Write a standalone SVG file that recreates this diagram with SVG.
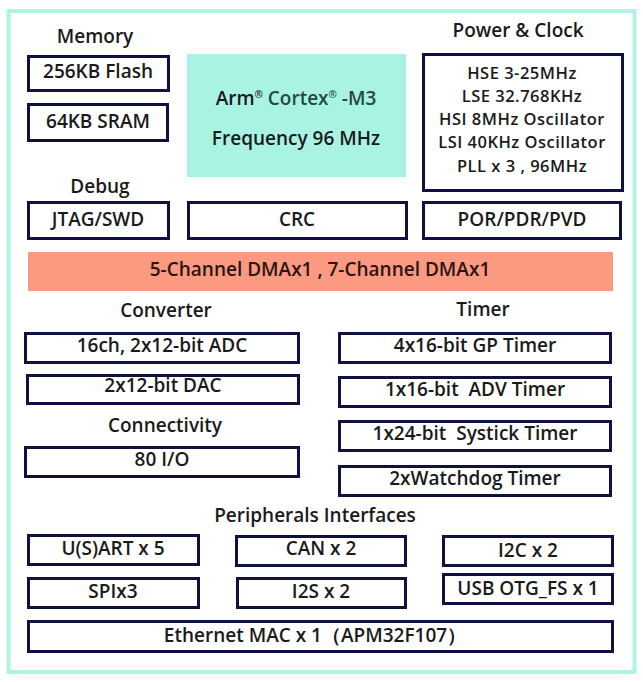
<svg xmlns="http://www.w3.org/2000/svg" width="643" height="682" viewBox="0 0 643 682">
<style>
.bx{fill:#ffffff;stroke:#0f1140;stroke-width:3}
.t{font-family:"Open Sans","Noto Sans","Liberation Sans",sans-serif;font-weight:600;font-size:19px;fill:#1a1a1a;text-anchor:middle}
.h{font-family:"Open Sans","Noto Sans","Liberation Sans",sans-serif;font-weight:600;font-size:19px;fill:#1a1a1a;text-anchor:middle}
.s{font-family:"Open Sans","Noto Sans","Liberation Sans",sans-serif;font-weight:600;font-size:16.5px;letter-spacing:0.5px;fill:#1a1a1a;text-anchor:middle}
.c{fill:#234845}
</style>
<rect x="0" y="0" width="643" height="682" fill="#ffffff"/>
<rect x="8.5" y="11" width="626" height="661" fill="#ffffff" stroke="#aef3e4" stroke-width="4"/>
<g id="titles">
<text class="h" x="95" y="43">Memory</text>
<text class="h" x="518" y="37">Power &amp; Clock</text>
<text class="h" x="100" y="193">Debug</text>
<text class="h" x="166" y="317">Converter</text>
<text class="h" x="483" y="316">Timer</text>
<text class="h" x="165" y="432">Connectivity</text>
<text class="h" x="315" y="522">Peripherals Interfaces</text>
</g>
<g id="flash"><rect class="bx" x="28.5" y="56.5" width="140" height="34"/><text class="t" x="98" y="78">256KB Flash</text></g>
<g id="sram"><rect class="bx" x="28.5" y="104.5" width="139" height="36"/><text class="t" x="98" y="128">64KB SRAM</text></g>
<g id="cortex"><rect x="187" y="54" width="219" height="123" fill="#a8f3e3"/>
<text class="t" x="296" y="105">Arm<tspan font-size="10" dy="-7">®</tspan><tspan class="c" dy="7"> Cortex</tspan><tspan class="c" font-size="10" dy="-7">®</tspan><tspan class="c" dy="7"> -M3</tspan></text>
<text class="t" x="296" y="145">Frequency 96 MHz</text></g>
<g id="power"><rect class="bx" x="423.5" y="54.5" width="199" height="136"/>
<text class="s" x="522" y="79">HSE 3-25MHz</text>
<text class="s" x="522" y="102">LSE 32.768KHz</text>
<text class="s" x="522" y="125">HSI 8MHz Oscillator</text>
<text class="s" x="522" y="148">LSI 40KHz Oscillator</text>
<text class="s" x="522" y="172">PLL x 3 , 96MHz</text></g>
<g id="jtag"><rect class="bx" x="28.5" y="202.5" width="140" height="36"/><text class="t" x="98" y="226">JTAG/SWD</text></g>
<g id="crc"><rect class="bx" x="188.5" y="202.5" width="218" height="36"/><text class="t" x="297" y="226">CRC</text></g>
<g id="por"><rect class="bx" x="423.5" y="202.5" width="197" height="36"/><text class="t" x="522" y="226">POR/PDR/PVD</text></g>
<g id="dma"><rect x="28" y="252" width="585" height="39" fill="#fb9981"/><text class="t" x="320" y="276" style="fill:#2a1414">5-Channel DMAx1 , 7-Channel DMAx1</text></g>
<g id="adc"><rect class="bx" x="25.5" y="333.5" width="273" height="29"/><text class="t" x="162" y="352">16ch, 2x12-bit ADC</text></g>
<g id="dac"><rect class="bx" x="27.5" y="375.5" width="271" height="28"/><text class="t" x="163" y="392">2x12-bit DAC</text></g>
<g id="io"><rect class="bx" x="25.5" y="447.5" width="273" height="29"/><text class="t" x="162" y="466">80 I/O</text></g>
<g id="gp"><rect class="bx" x="339.5" y="333.5" width="271" height="29"/><text class="t" x="475" y="352">4x16-bit GP Timer</text></g>
<g id="adv"><rect class="bx" x="339.5" y="377.5" width="271" height="29"/><text class="t" x="475" y="396" xml:space="preserve">1x16-bit  ADV Timer</text></g>
<g id="systick"><rect class="bx" x="339.5" y="421.5" width="271" height="29"/><text class="t" x="475" y="440" xml:space="preserve">1x24-bit  Systick Timer</text></g>
<g id="wdg"><rect class="bx" x="339.5" y="466.5" width="271" height="29"/><text class="t" x="475" y="485">2xWatchdog Timer</text></g>
<g id="usart"><rect class="bx" x="28.5" y="535.5" width="170" height="29"/><text class="t" x="113" y="555">U(S)ART x 5</text></g>
<g id="can"><rect class="bx" x="236.5" y="536.5" width="169" height="29"/><text class="t" x="321" y="555">CAN x 2</text></g>
<g id="i2c"><rect class="bx" x="443.5" y="536.5" width="169" height="29"/><text class="t" x="528" y="557">I2C x 2</text></g>
<g id="spi"><rect class="bx" x="28.5" y="578.5" width="170" height="29"/><text class="t" x="113" y="598">SPIx3</text></g>
<g id="i2s"><rect class="bx" x="237.5" y="578.5" width="168" height="29"/><text class="t" x="321" y="598">I2S x 2</text></g>
<g id="usb"><rect class="bx" x="443.5" y="574.5" width="169" height="29"/><text class="t" x="528" y="595">USB OTG_FS x 1</text></g>
<g id="eth"><rect class="bx" x="28.5" y="621.5" width="584" height="30"/><text class="t" x="315" y="642">Ethernet MAC x 1（APM32F107）</text></g>
<g id="connectors"/>
</svg>
